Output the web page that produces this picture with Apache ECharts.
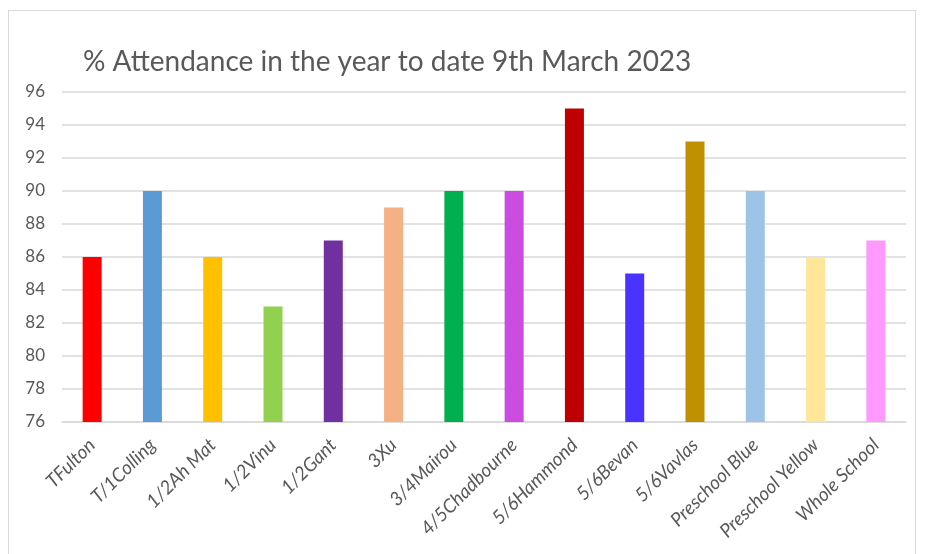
<!DOCTYPE html>
<html><head><meta charset="utf-8">
<script src="https://cdn.jsdelivr.net/npm/echarts@6/dist/echarts.min.js"></script>
<style>
html,body{margin:0;padding:0;background:#fff;}
#frame{position:absolute;left:8px;top:10px;width:908px;height:560px;border:1px solid #d9d9d9;box-sizing:border-box;}
#chart{position:absolute;left:0;top:0;width:933px;height:554px;}
</style></head>
<body>
<div id="frame"></div>
<div id="chart"></div>
<script>
const categories = ["TFulton","T/1Colling","1/2Ah Mat","1/2Vinu","1/2Gant","3Xu","3/4Mairou","4/5Chadbourne","5/6Hammond","5/6Bevan","5/6Vavlas","Preschool Blue","Preschool Yellow","Whole School"];
const attendance = [86,90,86,83,87,89,90,90,95,85,93,90,86,87];
const barColors = ["#FF0000","#5B9BD5","#FFC000","#92D050","#7030A0","#F4B183","#00B050","#CC4BE0","#C00000","#4B33FF","#BF9000","#9DC3E6","#FFE699","#FF99FF"];
const yTicks = {min:76,max:96,interval:2};
const titleText = "% Attendance in the year to date 9th March 2023";

const font = "Lato, 'Open Sans', sans-serif";
const chart = echarts.init(document.getElementById('chart'), null, {renderer:'canvas'});
chart.setOption({
  backgroundColor:'transparent',
  animation:false,
  title:{text:titleText,left:78,top:43,textStyle:{fontFamily:font,fontSize:28,fontWeight:'normal',color:'#595959'}},
  grid:{left:62,right:27,top:92,bottom:132,containLabel:false},
  xAxis:{type:'category',data:categories,
    axisLine:{lineStyle:{color:'#d9d9d9',width:1.5}},
    axisTick:{show:false},
    axisLabel:{rotate:45,interval:0,fontFamily:font,fontStyle:'italic',fontSize:19,color:'#595959',margin:20}},
  yAxis:{type:'value',min:yTicks.min,max:yTicks.max,interval:yTicks.interval,
    axisLine:{show:false},axisTick:{show:false},
    splitLine:{lineStyle:{color:'#d9d9d9',width:1.5}},
    axisLabel:{fontFamily:font,fontSize:17,color:'#595959',margin:17}},
  series:[{type:'bar',data:attendance.map((v,i)=>({value:v,itemStyle:{color:barColors[i]}})),barWidth:19}]
});
</script>
</body></html>
